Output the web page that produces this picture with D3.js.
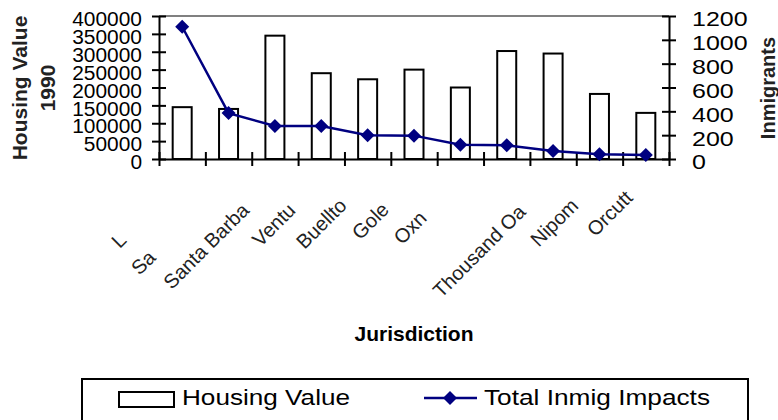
<!DOCTYPE html>
<html>
<head>
<meta charset="utf-8">
<script src="https://cdn.jsdelivr.net/npm/d3@7"></script>
<style>
  body { margin: 0; background: #fff; }
  svg { font-family: "Liberation Sans", Arial, sans-serif; }
</style>
</head>
<body>
<svg id="chart" width="778" height="420"></svg>
<script>
// categories as they are in the sheet, and the cut-off text Excel actually shows
const categories = ["Lompoc", "Santa Paula", "Santa Barbara", "Ventura", "Buellton", "Goleta",
  "Oxnard", "Santa Maria", "Thousand Oaks", "Nipomo", "Orcutt"];
const shownLabels = ["L", "Sa", "Santa Barba", "Ventu", "Buellto", "Gole",
  "Oxn", "", "Thousand Oa", "Nipom", "Orcutt"];

const housingValue = [145000, 140000, 345000, 240000, 223000, 250000, 200000, 302000, 295000, 182000, 129000];
const inmigImpacts = [1110, 385, 277, 277, 199, 196, 120, 115, 67, 39, 34];

const leftTicks = [0, 50000, 100000, 150000, 200000, 250000, 300000, 350000, 400000];
const rightTicks = [0, 200, 400, 600, 800, 1000, 1200];
const legendLabels = ["Housing Value", "Total Inmig Impacts"];

const navy = "#000080";
const X0 = 159, X1 = 669, Y0 = 16, Y1 = 159;

const svg = d3.select("#chart");

const x = d3.scaleBand().domain(categories).range([X0, X1]);
const xi = d3.scaleLinear().domain([0, categories.length]).range([X0, X1]);
const yL = d3.scaleLinear().domain([0, 400000]).range([Y1, Y0]);
const yR = d3.scaleLinear().domain([0, 1200]).range([Y1, Y0]);
const bw = x.bandwidth();
const barW = bw * 0.41;

// plot area top border
svg.append("line")
    .attr("x1", X0).attr("x2", X1).attr("y1", Y0).attr("y2", Y0)
    .attr("stroke", "#808080").attr("stroke-width", 2);

// bars
svg.append("g").selectAll("rect")
    .data(housingValue)
    .enter()
    .append("rect")
    .attr("x", (d, i) => x(categories[i]) + (bw - barW) / 2)
    .attr("y", d => yL(d))
    .attr("width", barW)
    .attr("height", d => Y1 - yL(d))
    .attr("fill", "#fff")
    .attr("stroke", "#000")
    .attr("stroke-width", 2);

// left axis
const leftAxis = svg.append("g")
    .attr("transform", `translate(${X0},0)`)
    .call(d3.axisLeft(yL).tickValues(leftTicks).tickFormat(d3.format("d"))
      .tickSize(7).tickSizeOuter(0).tickPadding(10));
leftAxis.selectAll("line").attr("x1", 7);
leftAxis.selectAll("text").attr("font-size", 20.5).attr("dy", "0.47em")
    .attr("font-family", "Liberation Sans, Arial, sans-serif")
    .each(function() {
      const w = this.getComputedTextLength();
      d3.select(this).attr("textLength", w * 1.02).attr("lengthAdjust", "spacingAndGlyphs");
    });

// right axis
const rightAxis = svg.append("g")
    .attr("transform", `translate(${X1},0)`)
    .call(d3.axisRight(yR).tickValues(rightTicks).tickFormat(d3.format("d"))
      .tickSize(7).tickSizeOuter(0).tickPadding(16));
rightAxis.selectAll("line").attr("x1", -7);
rightAxis.selectAll("text").attr("font-size", 21).attr("dy", "0.47em")
    .attr("font-family", "Liberation Sans, Arial, sans-serif")
    .each(function() {
      const w = this.getComputedTextLength();
      d3.select(this).attr("textLength", w * 1.19).attr("lengthAdjust", "spacingAndGlyphs");
    });

// category axis, ticks on the boundaries
const bottomAxis = svg.append("g")
    .attr("transform", `translate(0,${Y1})`)
    .call(d3.axisBottom(xi).tickValues(d3.range(categories.length + 1)).tickFormat("")
      .tickSize(7).tickSizeOuter(0));
bottomAxis.selectAll("line").attr("y1", -7);

[leftAxis, rightAxis, bottomAxis].forEach(a => {
  a.selectAll("path, line").attr("stroke", "#000").attr("stroke-width", 2);
});

// category labels: full name anchored at the end, only the visible part drawn
categories.forEach((c, i) => {
  const g = svg.append("g")
      .attr("transform", `translate(${x(c) + bw / 2 - 12},${Y1 + 40}) rotate(-45)`)
      .attr("font-size", 20);
  const probe = g.append("text").text(c);
  const len = probe.node().getComputedTextLength();
  probe.remove();
  g.append("text")
      .attr("x", -len)
      .attr("fill", "#222")
      .text(shownLabels[i]);
});

// line series
const line = d3.line()
    .x((d, i) => x(categories[i]) + bw / 2)
    .y(d => yR(d));

svg.append("path")
    .datum(inmigImpacts)
    .attr("d", line)
    .attr("fill", "none")
    .attr("stroke", navy)
    .attr("stroke-width", 2.5);

const diamond = d3.symbol().type(d3.symbolSquare).size(98);
svg.append("g").selectAll("path")
    .data(inmigImpacts)
    .enter()
    .append("path")
    .attr("d", diamond)
    .attr("transform", (d, i) => `translate(${x(categories[i]) + bw / 2},${yR(d)}) rotate(45)`)
    .attr("fill", navy);

// axis titles
const leftTitle = svg.append("g").attr("font-weight", "bold").attr("font-size", 21)
    .attr("text-anchor", "middle").attr("fill", "#222");
leftTitle.append("text").attr("transform", "translate(27,88) rotate(-90)").text("Housing Value");
leftTitle.append("text").attr("transform", "translate(55,88) rotate(-90)").text("1990");

svg.append("text")
    .attr("transform", "translate(775,88) rotate(-90)")
    .attr("text-anchor", "middle").attr("font-weight", "bold").attr("font-size", 20)
    .attr("fill", "#222")
    .text("Inmigrants");

svg.append("text")
    .attr("x", (X0 + X1) / 2).attr("y", 341)
    .attr("text-anchor", "middle").attr("font-weight", "bold").attr("font-size", 21)
    .text("Jurisdiction");

// legend
const legend = svg.append("g");
legend.append("rect")
    .attr("x", 82).attr("y", 379).attr("width", 666).attr("height", 60)
    .attr("fill", "#fff").attr("stroke", "#000").attr("stroke-width", 2);

legend.append("rect")
    .attr("x", 119).attr("y", 392).attr("width", 55).attr("height", 15)
    .attr("fill", "#fff").attr("stroke", "#000").attr("stroke-width", 2);

legend.append("line")
    .attr("x1", 424).attr("x2", 477).attr("y1", 398).attr("y2", 398)
    .attr("stroke", navy).attr("stroke-width", 2.5);
legend.append("path")
    .attr("d", diamond)
    .attr("transform", "translate(450,398) rotate(45)")
    .attr("fill", navy);

const legendText = [[182, 168], [484, 226]];
legendLabels.forEach((t, i) => {
  legend.append("text")
      .attr("x", legendText[i][0]).attr("y", 405)
      .attr("font-size", 22)
      .attr("textLength", legendText[i][1]).attr("lengthAdjust", "spacingAndGlyphs")
      .text(t);
});
</script>
</body>
</html>
